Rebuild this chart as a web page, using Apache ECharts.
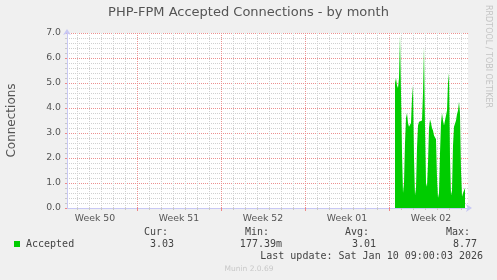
<!DOCTYPE html>
<html><head><meta charset="utf-8">
<script src="https://cdn.jsdelivr.net/npm/echarts@6/dist/echarts.min.js"></script>
<style>html,body{margin:0;padding:0;background:#f0f0f0;}#c{width:497px;height:280px;}</style>
</head><body><div id="c"></div>
<script>
// x unit: hours relative to Sun Jan 4 2026 00:00
var xMin = -644, xMax = 158;
var startHour = 12;          // first sample: Jan 4 12:00
var stepHours = 2;           // 2-hour consolidated samples
var accepted = [5.0,5.2,4.9,4.8,5.2,6.9,4.6,2.2,0.6,1.0,2.6,3.6,3.8,3.4,3.25,3.3,3.4,4.4,4.9,2.0,
  0.5,0.8,2.4,3.3,3.45,3.4,3.5,3.5,4.6,6.45,3.2,1.0,0.85,1.8,3.2,3.55,3.4,3.2,3.1,2.9,
  2.85,2.75,1.2,0.4,0.6,2.2,3.4,3.8,3.5,3.3,3.25,3.3,3.9,5.0,5.4,2.0,0.5,0.7,2.5,3.25,
  3.3,3.5,3.75,3.9,4.25,3.8,1.5,0.45,0.6,0.7,0.8];
var weekNames = ['Week 50','Week 51','Week 52','Week 01','Week 02'];
var weekLabelHours = [-588,-420,-252,-84,84];
var weekBoundHours = [-504,-336,-168,0];
var dayHours = [];
for (var h = -624; h <= 144; h += 24) if (weekBoundHours.indexOf(h) < 0) dayHours.push(h);
var yTicks = ['0.0','1.0','2.0','3.0','4.0','5.0','6.0','7.0'];
var legendHeads = ['Cur:','Min:','Avg:','Max:'];
var legendVals = ['3.03','177.39m','3.01','8.77'];

var data = accepted.map(function(v,i){ return [startHour + i*stepHours, v]; });

var chart = echarts.init(document.getElementById('c'), null, {renderer:'canvas'});
var txt = '#555';
var minorC = '#d0d0d0', majorC = '#ec9090', axisC = '#c8c8f4';
var mono = '"DejaVu Sans Mono", monospace';
var headX = [168, 269, 369, 470], valX = [174, 282, 376, 477];
var graphics = [
  {type:'text', left:'center', top:6, style:{text:'PHP-FPM Accepted Connections - by month', font:'13px "DejaVu Sans"', fill:'#555'}},
  {type:'text', x:488, y:5, rotation:-Math.PI/2, style:{text:'RRDTOOL / TOBI OETIKER', font:'8px "DejaVu Sans"', fill:'#c4c4c4', verticalAlign:'middle'}},
  {type:'rect', shape:{x:14, y:241, width:6, height:6}, style:{fill:'#00cc00'}},
  {type:'text', x:26, y:244, style:{text:'Accepted', font:'10px '+mono, fill:'#444', verticalAlign:'middle'}},
  {type:'text', x:483, y:256.5, style:{text:'Last update: Sat Jan 10 09:00:03 2026', font:'10px '+mono, fill:'#444', align:'right', verticalAlign:'middle'}},
  {type:'text', x:249, y:269, style:{text:'Munin 2.0.69', font:'7.5px "DejaVu Sans"', fill:'#c8c8c8', align:'center', verticalAlign:'middle'}}
];
legendHeads.forEach(function(t,i){
  graphics.push({type:'text', x:headX[i], y:232.5, style:{text:t, font:'10px '+mono, fill:'#444', align:'right', verticalAlign:'middle'}});
  graphics.push({type:'text', x:valX[i], y:244, style:{text:legendVals[i], font:'10px '+mono, fill:'#444', align:'right', verticalAlign:'middle'}});
});

function vLines(list, color, z){
  return {type:'custom', silent:true, z:z, data:list.map(function(h){ return [h]; }),
    encode:{x:0}, clip:false,
    renderItem:function(params, api){
      var x = Math.round(api.coord([api.value(0), 0])[0]) + 0.5;
      var top = api.coord([xMin, 7])[1], bottom = api.coord([xMin, 0])[1];
      return {type:'line', shape:{x1:x, y1:top, x2:x, y2:bottom},
        style:{stroke:color, lineWidth:1, lineDash:[1,1], fill:null}};
    }};
}

chart.setOption({
  backgroundColor:'#f0f0f0',
  animation:false,
  grid:{left:67, top:33, width:401, height:175, outerBoundsMode:'none', containLabel:false,
        backgroundColor:'#ffffff', show:true, borderWidth:0},
  xAxis:[{
    type:'value', min:xMin, max:xMax, position:'bottom',
    axisLine:{show:true, onZero:false, lineStyle:{color:axisC, width:1}, symbol:['none','arrow'], symbolSize:[6,6], symbolOffset:[0,4]},
    axisTick:{show:true, length:2, customValues:dayHours, lineStyle:{color:'#c8c8c8'}},
    splitLine:{show:false},
    axisLabel:{show:true, customValues:weekLabelHours, margin:6, color:txt, fontFamily:'DejaVu Sans', fontSize:9.33,
      formatter:function(v){ var i = weekLabelHours.indexOf(v); return i>=0 ? weekNames[i] : ''; }}
  },{
    type:'value', min:xMin, max:xMax, position:'bottom',
    axisLine:{show:false, onZero:false},
    axisTick:{show:true, length:3, customValues:weekBoundHours, lineStyle:{color:'#e88'}},
    splitLine:{show:false},
    axisLabel:{show:false}
  }],
  yAxis:{
    type:'value', min:0, max:7, interval:1,
    name:'Connections', nameLocation:'middle', nameGap:49, nameRotate:90,
    nameTextStyle:{color:txt, fontFamily:'DejaVu Sans', fontSize:12},
    axisLine:{show:true, onZero:false, lineStyle:{color:axisC, width:1}, symbol:['none','arrow'], symbolSize:[6,6], symbolOffset:[0,4]},
    axisTick:{show:true, length:2, lineStyle:{color:'#e88'}},
    minorTick:{show:true, splitNumber:5, length:2, lineStyle:{color:'#c8c8c8'}},
    splitLine:{show:true, lineStyle:{color:majorC, type:[1,1], width:1}},
    minorSplitLine:{show:true, lineStyle:{color:minorC, type:[1,1], width:1}},
    axisLabel:{color:txt, fontFamily:'DejaVu Sans', fontSize:9.33, margin:6,
      formatter:function(v){ return yTicks[Math.round(v)]; }}
  },
  series:[
    vLines(dayHours, minorC, 1),
    vLines(weekBoundHours, majorC, 2),
    {type:'line', data:data, showSymbol:false, symbol:'none',
     lineStyle:{width:0}, areaStyle:{color:'#00cc00', opacity:1}, itemStyle:{color:'#00cc00'}, z:3}
  ],
  graphic:graphics
});
</script></body></html>
